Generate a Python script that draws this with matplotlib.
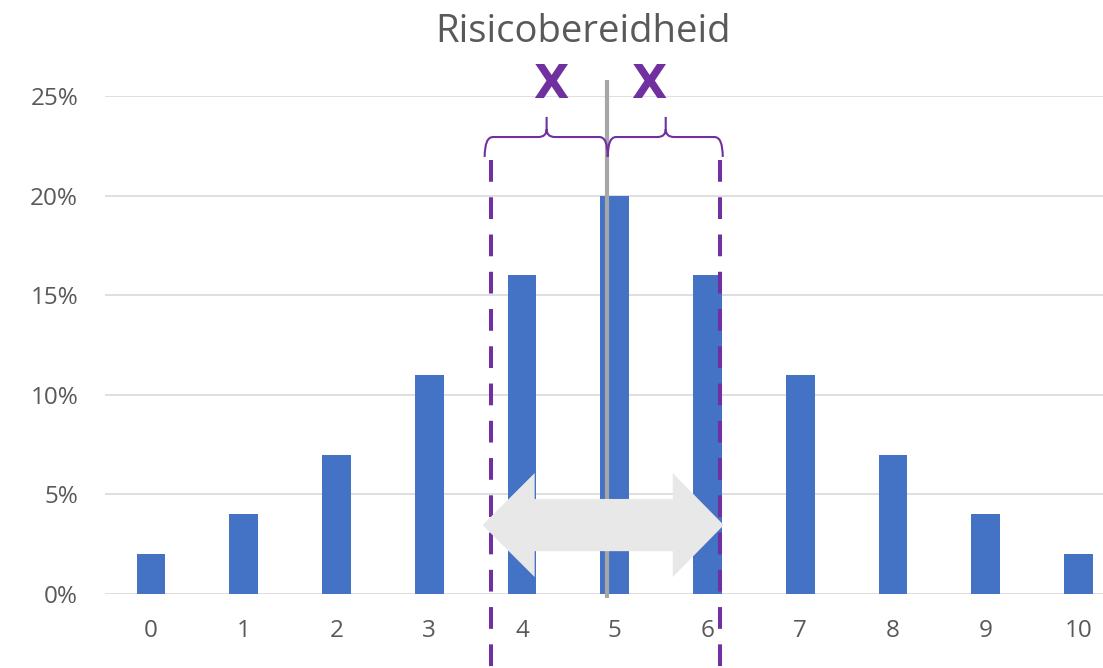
import numpy as np
import matplotlib
matplotlib.use("Agg")
import matplotlib.pyplot as plt
from matplotlib.path import Path
from matplotlib.patches import PathPatch, Polygon
from matplotlib.ticker import FuncFormatter

# Data
categories = list(range(11))
shares = [0.02, 0.04, 0.07, 0.11, 0.16, 0.20, 0.16, 0.11, 0.07, 0.04, 0.02]
yticks = [0.0, 0.05, 0.10, 0.15, 0.20, 0.25]
title = "Risicobereidheid"

# Colours
bar_color = "#4472c4"
text_color = "#595959"
grid_color = "#d9d9d9"
purple = "#7030a0"
mid_gray = "#a6a6a6"
arrow_gray = "#e8e8e8"

# Annotation positions (category units / share units)
mid_x = 4.92
left_x = 3.67
right_x = 6.14

plt.rcParams['font.family'] = ['Open Sans', 'DejaVu Sans']

fig = plt.figure(figsize=(11.03, 6.68), dpi=100)
ax = fig.add_axes([0.0948, 0.1108, 0.925, 0.7455])

ax.bar(categories, shares, width=0.31, color=bar_color, zorder=2)

ax.set_xlim(-0.5, 10.5)
ax.set_ylim(0, 0.25)
ax.set_yticks(yticks)
ax.yaxis.set_major_formatter(FuncFormatter(lambda v, p: "{:.0f}%".format(v * 100)))
ax.set_xticks(categories)
ax.tick_params(axis='both', length=0, labelsize=17.5, colors=text_color)
ax.tick_params(axis='y', pad=19)
ax.tick_params(axis='x', pad=18)
ax.grid(axis='y', color=grid_color, linewidth=1.2, zorder=0)
ax.set_axisbelow(True)
for s in ax.spines.values():
    s.set_visible(False)

fig.text(0.5286, 1 - 32 / 668, title, ha='center', va='center',
         fontsize=27.5, color=text_color)

# Middle gray line
ax.plot([mid_x, mid_x], [-0.002, 0.258], color=mid_gray, linewidth=3.0,
        clip_on=False, zorder=3, solid_capstyle='butt')

# Purple dashed bounds
for xx in (left_x, right_x):
    ax.plot([xx, xx], [0.218, -0.06], color=purple, linewidth=2.9,
            linestyle=(0, (5.4, 3.85)), clip_on=False, zorder=3,
            dash_capstyle='butt')

# Braces
def brace(xa, xb, xm, yb, yh, yt, r=0.09, dy=0.004):
    verts = [
        (xa, yb), (xa, yh), (xa + r, yh),
        (xm - r, yh), (xm, yh), (xm, yh + dy),
        (xm, yt),
        (xm, yh + dy), (xm, yh), (xm + r, yh),
        (xb - r, yh), (xb, yh), (xb, yb),
    ]
    codes = [
        Path.MOVETO, Path.CURVE3, Path.CURVE3,
        Path.LINETO, Path.CURVE3, Path.CURVE3,
        Path.LINETO,
        Path.MOVETO, Path.CURVE3, Path.CURVE3,
        Path.LINETO, Path.CURVE3, Path.CURVE3,
    ]
    ax.add_patch(PathPatch(Path(verts, codes), fill=False, edgecolor=purple,
                           linewidth=1.5, clip_on=False, zorder=4))

brace(3.598, 4.925, 4.266, 0.2194, 0.2294, 0.2395)
brace(4.925, 6.165, 5.55, 0.2194, 0.2294, 0.2395)

for xx in (4.31, 5.37):
    ax.text(xx, 0.2555, "X", ha='center', va='center', fontsize=33,
            fontweight='bold', color=purple, family='DejaVu Sans',
            clip_on=False, zorder=4)

# Double-headed gray arrow
yc, hs, hh = 0.0346, 0.0131, 0.0261
xl, xlb, xrb, xr = 3.576, 4.137, 5.626, 6.176
arrow = Polygon([(xl, yc), (xlb, yc + hh), (xlb, yc + hs), (xrb, yc + hs),
                 (xrb, yc + hh), (xr, yc), (xrb, yc - hh), (xrb, yc - hs),
                 (xlb, yc - hs), (xlb, yc - hh)],
                closed=True, facecolor=arrow_gray, edgecolor='none',
                zorder=5, clip_on=False)
ax.add_patch(arrow)

fig.savefig("out.png", dpi=100)
